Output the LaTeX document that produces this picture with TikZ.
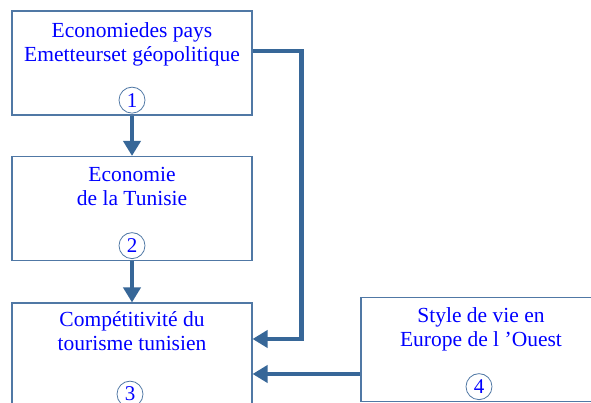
\documentclass[tikz,border=0pt]{standalone}
\usepackage{fontspec}
\setmainfont{Liberation Serif}
\usetikzlibrary{arrows.meta,positioning}
\definecolor{boxline}{RGB}{80,120,165}
\definecolor{flowline}{RGB}{55,103,152}
\definecolor{txtblue}{RGB}{0,0,255}
\begin{document}
\begin{tikzpicture}[x=1pt,y=1pt,
	box/.style={draw=boxline,line width=1.1pt,minimum width=240,minimum height=104,inner sep=0},
	caption/.style={text=txtblue,align=center,inner sep=0,font=\fontsize{21.5}{24}\selectfont},
	num/.style={circle,draw=boxline,line width=0.8pt,text=txtblue,minimum size=26,inner sep=0,font=\fontsize{21}{24}\selectfont},
	flow/.style={draw=flowline,line width=4.8pt,-{Triangle[length=15pt,width=17pt]}}]
\useasboundingbox (0,0) rectangle (591,403);
% the four boxes
\node[box] (pays) at (132,340) {};
\node[box] (tunisie) at (132,194.5) {};
\node[box,minimum height=106] (tourisme) at (132,47) {};
\node[box] (style) at (481,53.5) {};
% texts
\node[caption,below=12 of pays.north] (pays txt) {Economiedes pays\\Emetteurset géopolitique};
\node[caption,below=11 of tunisie.north] (tunisie txt) {Economie\\de la Tunisie};
\node[caption,below=9 of tourisme.north] (tourisme txt) {Compétitivité du\\tourisme tunisien};
\node[caption,below=10 of style.north] (style txt) {Style de vie en\\Europe de l ’Ouest};
% numbers
\node[num,above=2 of pays.south] (n1) {1};
\node[num,above=2 of tunisie.south] (n2) {2};
\node[num,above=2 of tourisme.south,xshift=-2] (n3) {3};
\node[num,above=2 of style.south,xshift=-2] (n4) {4};
% connectors
\coordinate (in a) at ([yshift=17]tourisme.east);
\coordinate (in b) at ([yshift=-18]tourisme.east);
\draw[flow] (pays.south) -- (tunisie.north);
\draw[flow] (tunisie.south) -- (tourisme.north);
\draw[flow] ([yshift=12]pays.east) -- ++(49,0) |- (in a);
\draw[flow] (style.west |- in b) -- (in b);
\end{tikzpicture}
\end{document}
